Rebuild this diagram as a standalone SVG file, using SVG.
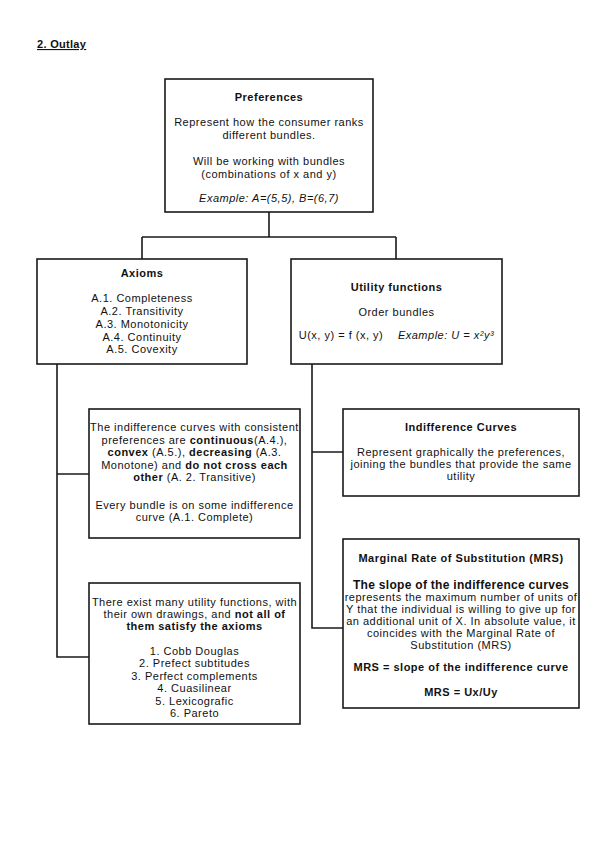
<svg xmlns="http://www.w3.org/2000/svg" width="599" height="848" viewBox="0 0 599 848">
<style>
.box{fill:#fff;stroke:#1a1a1a;stroke-width:1.6}
.con{fill:none;stroke:#1a1a1a;stroke-width:1.6}
text{font-family:"Liberation Sans",Arial,sans-serif;font-size:11px;letter-spacing:0.5px;fill:#111;text-anchor:middle}
.b{font-weight:bold}
.i{font-style:italic}
</style>
<rect width="599" height="848" fill="#fff"/>
<text x="37" y="48" class="b" style="text-anchor:start;text-decoration:underline;letter-spacing:0.3px">2. Outlay</text>

<g id="connectors">
<path class="con" d="M269 212V237M142 237H396M142 237V259M396 237V259"/>
<path class="con" d="M57 364V657H89M57 474H89"/>
<path class="con" d="M312 364V628H343M312 452H343"/>
</g>

<g id="preferences">
<rect class="box" x="165" y="79" width="208" height="133"/>
<text x="269" y="101" class="b">Preferences</text>
<text x="269" y="126">Represent how the consumer ranks</text>
<text x="269" y="139">different bundles.</text>
<text x="269" y="165">Will be working with bundles</text>
<text x="269" y="178">(combinations of x and y)</text>
<text x="269" y="202" class="i">Example: A=(5,5), B=(6,7)</text>
</g>

<g id="axioms">
<rect class="box" x="37" y="259" width="210" height="105"/>
<text x="142" y="277" class="b">Axioms</text>
<text x="142" y="302">A.1. Completeness</text>
<text x="142" y="315">A.2. Transitivity</text>
<text x="142" y="328">A.3. Monotonicity</text>
<text x="142" y="341">A.4. Continuity</text>
<text x="142" y="353">A.5. Covexity</text>
</g>

<g id="utility">
<rect class="box" x="291" y="259" width="211" height="105"/>
<text x="396.5" y="291" class="b">Utility functions</text>
<text x="396.5" y="316">Order bundles</text>
<text x="341" y="339">U(x, y) = f (x, y)</text>
<text x="446" y="339" class="i">Example: U = x²y³</text>
</g>

<g id="ic-properties">
<rect class="box" x="89" y="409" width="211" height="129"/>
<text x="194.5" y="431">The indifference curves with consistent</text>
<text x="194.5" y="444">preferences are <tspan class="b">continuous</tspan>(A.4.),</text>
<text x="194.5" y="456"><tspan class="b">convex</tspan> (A.5.), <tspan class="b">decreasing</tspan> (A.3.</text>
<text x="194.5" y="469">Monotone) and <tspan class="b">do not cross each</tspan></text>
<text x="194.5" y="481"><tspan class="b">other</tspan> (A. 2. Transitive)</text>
<text x="194.5" y="509">Every bundle is on some indifference</text>
<text x="194.5" y="521">curve (A.1. Complete)</text>
</g>

<g id="indifference-curves">
<rect class="box" x="343" y="409" width="236" height="87"/>
<text x="461" y="431" class="b">Indifference Curves</text>
<text x="461" y="456">Represent graphically the preferences,</text>
<text x="461" y="468">joining the bundles that provide the same</text>
<text x="461" y="480">utility</text>
</g>

<g id="utility-list">
<rect class="box" x="89" y="583" width="211" height="141"/>
<text x="194.5" y="606">There exist many utility functions, with</text>
<text x="194.5" y="618">their own drawings, and <tspan class="b">not all of</tspan></text>
<text x="194.5" y="630" class="b">them satisfy the axioms</text>
<text x="194.5" y="655">1. Cobb Douglas</text>
<text x="194.5" y="667">2. Prefect subtitudes</text>
<text x="194.5" y="680">3. Perfect complements</text>
<text x="194.5" y="692">4. Cuasilinear</text>
<text x="194.5" y="705">5. Lexicografic</text>
<text x="194.5" y="717">6. Pareto</text>
</g>

<g id="mrs">
<rect class="box" x="343" y="539" width="236" height="169"/>
<text x="461" y="562" class="b">Marginal Rate of Substitution (MRS)</text>
<text x="461" y="589" class="b" style="font-size:12px;letter-spacing:0.3px">The slope of the indifference curves</text>
<text x="461" y="601">represents the maximum number of units of</text>
<text x="461" y="613">Y that the individual is willing to give up for</text>
<text x="461" y="625">an additional unit of X. In absolute value, it</text>
<text x="461" y="637">coincides with the Marginal Rate of</text>
<text x="461" y="649">Substitution (MRS)</text>
<text x="461" y="671" class="b">MRS = slope of the indifference curve</text>
<text x="461" y="696" class="b">MRS = Ux/Uy</text>
</g>
</svg>
